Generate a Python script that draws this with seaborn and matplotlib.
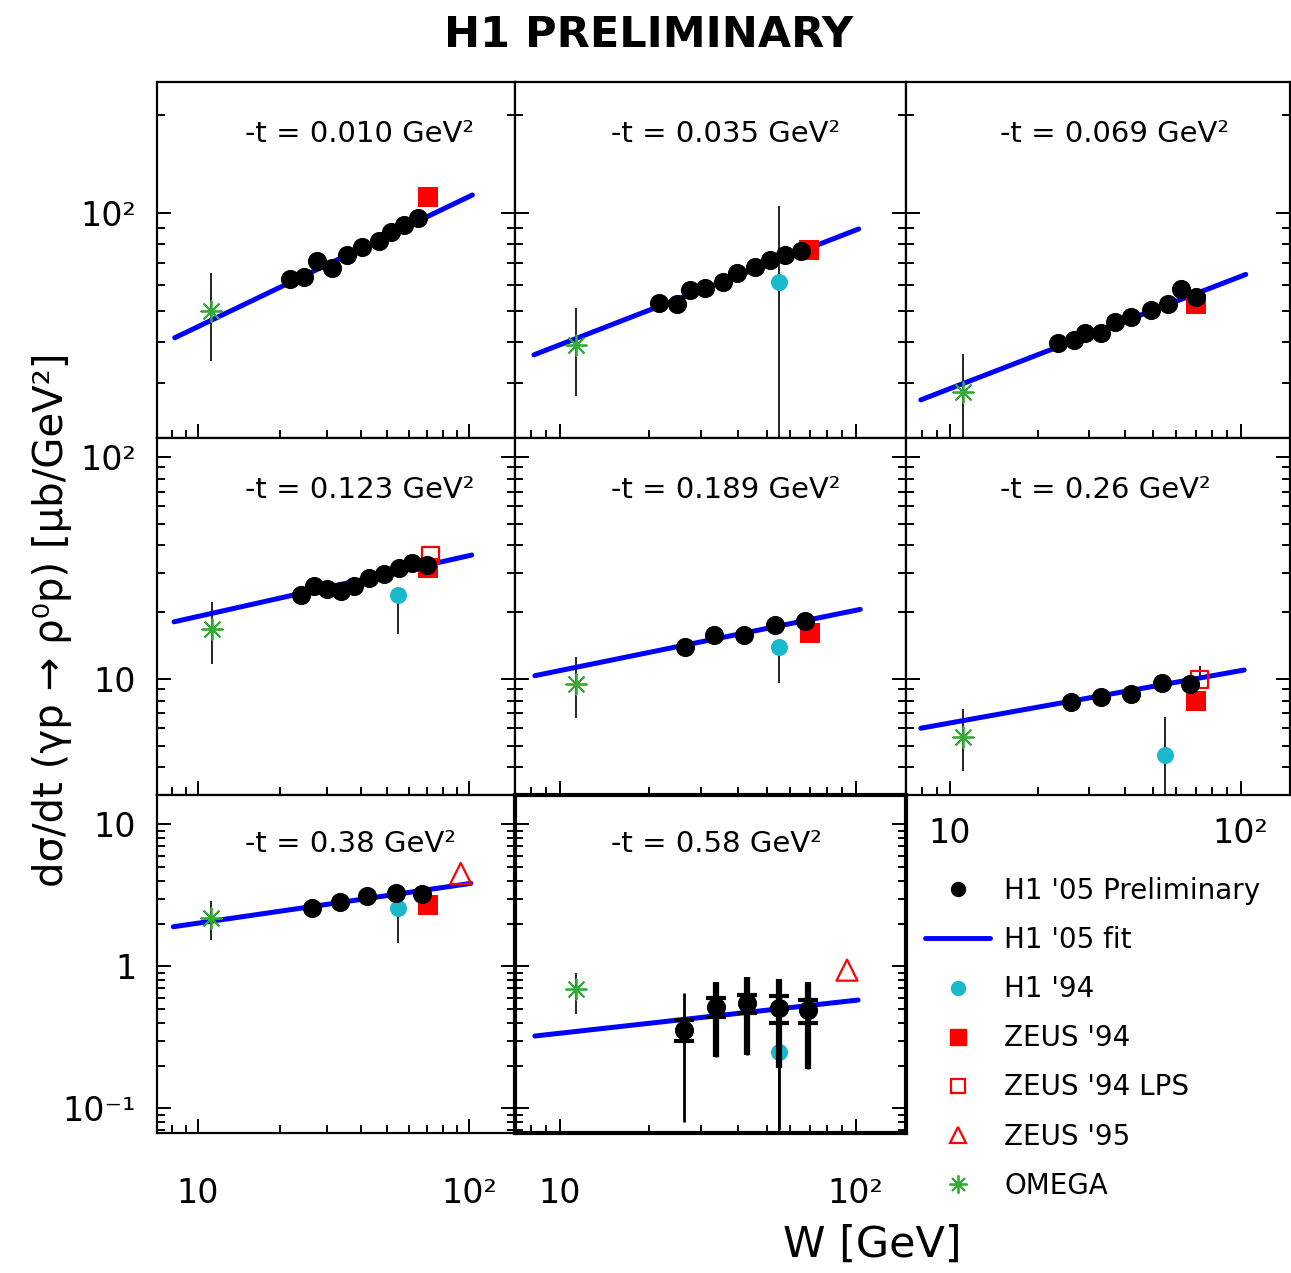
import numpy as np
import matplotlib
matplotlib.use("Agg")
import matplotlib.pyplot as plt
from matplotlib.ticker import LogLocator, FuncFormatter, NullFormatter
from matplotlib.lines import Line2D
import seaborn as sns

# ---------------- data ----------------
T_LABELS = ["0.010", "0.035", "0.069", "0.123", "0.189", "0.26", "0.38", "0.58"]

# H1 '05 preliminary points per panel
H1_05_W = [
    [21.8, 24.7, 27.5, 31.3, 35.5, 40.4, 46.5, 51.4, 57.5, 64.6],
    [21.6, 24.9, 27.6, 31.0, 35.5, 39.8, 45.7, 51.5, 57.9, 65.1],
    [23.6, 26.6, 29.1, 33.0, 36.9, 41.9, 49.3, 56.2, 62.4, 70.3],
    [23.9, 26.7, 30.0, 33.6, 37.6, 42.8, 48.6, 55.2, 61.8, 70.3],
    [26.4, 33.2, 41.8, 53.3, 67.6],
    [26.0, 33.0, 41.8, 53.8, 67.2],
    [26.4, 33.3, 42.2, 53.6, 67.4],
    [26.2, 33.6, 42.9, 54.9, 69.0],
]
H1_05_Y = [
    [62.5, 63.7, 71.1, 67.6, 74.3, 78.7, 82.0, 87.6, 91.8, 96.3],
    [52.9, 52.5, 58.0, 58.6, 61.5, 65.5, 68.4, 71.7, 74.4, 76.6],
    [39.7, 40.6, 42.6, 42.6, 46.3, 48.0, 50.3, 52.5, 58.2, 55.1],
    [23.9, 26.3, 25.4, 25.0, 26.3, 28.4, 29.7, 31.5, 33.4, 32.6],
    [14.0, 15.8, 15.8, 17.6, 18.2],
    [7.85, 8.32, 8.56, 9.56, 9.49],
    [2.56, 2.82, 3.13, 3.26, 3.23],
    [0.356, 0.519, 0.549, 0.506, 0.492],
]
# errors of the H1 '05 points in the last panel (-t = 0.58)
P8_TOT_LO = [0.080, 0.229, 0.237, 0.070, 0.188]
P8_TOT_HI = [0.645, 0.772, 0.837, 0.810, 0.780]
P8_IN_LO = [0.356, 0.229, 0.237, 0.191, 0.188]
P8_IN_HI = [0.356, 0.772, 0.837, 0.810, 0.780]
P8_STAT_LO = [0.300, 0.440, 0.470, 0.400, 0.400]
P8_STAT_HI = [0.420, 0.600, 0.630, 0.620, 0.580]

# H1 '05 fit (power law, straight in log-log): end points per panel
FIT_W_LO = [8.2, 8.17, 7.93, 8.15, 8.23, 7.93, 8.1, 8.23]
FIT_W_HI = [103.0, 102.4, 104.2, 102.4, 103.7, 102.9, 101.7, 101.9]
FIT_Y_LO = [41.3, 36.6, 26.6, 18.1, 10.35, 6.0, 1.90, 0.323]
FIT_Y_HI = [113.6, 89.3, 64.7, 36.2, 20.6, 10.98, 3.84, 0.579]

# OMEGA
OMEGA_W = [11.2, 11.3, 11.1, 11.3, 11.3, 11.1, 11.2, 11.3]
OMEGA_Y = [49.9, 39.3, 28.2, 16.8, 9.46, 5.5, 2.18, 0.689]
OMEGA_LO = [35.1, 27.4, 10.0, 11.7, 6.65, 3.85, 1.53, 0.461]
OMEGA_HI = [65.5, 50.9, 36.8, 22.2, 12.6, 7.3, 2.88, 0.90]

# H1 '94
H1_94_PANEL = [1, 3, 4, 5, 6, 7]
H1_94_W = [54.9, 54.9, 54.9, 54.8, 54.9, 54.9]
H1_94_Y = [61.5, 23.9, 13.9, 4.55, 2.56, 0.25]
H1_94_LO = [5.0, 15.9, 9.6, 1.0, 1.47, 0.01]
H1_94_HI = [105.0, 26.0, 15.2, 6.76, 2.9, 0.45]

# ZEUS '94
ZEUS94_PANEL = [0, 1, 2, 3, 4, 5, 6]
ZEUS94_W = [70.6, 69.8, 70.3, 70.6, 70.3, 70.3, 70.6]
ZEUS94_Y = [112.3, 76.9, 52.5, 31.5, 16.2, 7.98, 2.70]

# ZEUS '94 LPS
LPS_PANEL = [3, 5]
LPS_W = [71.9, 72.5]
LPS_Y = [36.2, 9.97]
LPS_HI = [36.2, 11.4]

# ZEUS '95
ZEUS95_PANEL = [6, 7]
ZEUS95_W = [93.3, 93.5]
ZEUS95_Y = [4.51, 0.94]

LEGEND_LABELS = ["H1 '05 Preliminary", "H1 '05 fit", "H1 '94", "ZEUS '94",
                 "ZEUS '94 LPS", "ZEUS '95", "OMEGA"]

# ---------------- style ----------------
sns.set_style("white")
plt.rcParams["font.family"] = ["DejaVu Sans"]
plt.rcParams["axes.linewidth"] = 1.6
plt.rcParams["text.color"] = "black"
plt.rcParams["axes.labelcolor"] = "black"
plt.rcParams["xtick.color"] = "black"
plt.rcParams["ytick.color"] = "black"

BLUE = "#0000ff"
CYAN = "#19b9cb"
RED = "#ff0000"
GREEN = "#33aa33"

W_PX, H_PX = 1291, 1273
fig = plt.figure(figsize=(W_PX / 100, H_PX / 100), dpi=100)
fig.patch.set_facecolor("white")

col_edges = [157, 515, 906, 1290]
row_edges = [82, 438, 795, 1133]
ROW_YLIM = [(20.3, 253.0), (3.0, 122.0), (0.067, 16.1)]
XLIM = (7.05, 148.0)

TICK_TEXT = {0.1: "10\u207b\u00b9", 1.0: "1", 10.0: "10", 100.0: "10\u00b2"}


def log_fmt(v, pos):
    for k, s in TICK_TEXT.items():
        if abs(v - k) / k < 1e-6:
            return s
    return ""


def draw_err(ax, x, y, lo, hi, lw=1.2, z=2):
    x = np.atleast_1d(x); y = np.atleast_1d(y)
    lo = np.atleast_1d(lo); hi = np.atleast_1d(hi)
    ax.errorbar(x, y, yerr=[y - lo, hi - y], fmt="none", ecolor="black",
                elinewidth=lw, capsize=0, zorder=z)


for i in range(8):
    r, c = divmod(i, 3)
    x0, x1 = col_edges[c], col_edges[c + 1]
    y0, y1 = row_edges[r], row_edges[r + 1]
    ax = fig.add_axes([x0 / W_PX, 1 - y1 / H_PX, (x1 - x0) / W_PX, (y1 - y0) / H_PX])
    ax.set_xscale("log")
    ax.set_yscale("log")

    # fit line
    sns.lineplot(x=[FIT_W_LO[i], FIT_W_HI[i]], y=[FIT_Y_LO[i], FIT_Y_HI[i]], ax=ax,
                 color=BLUE, lw=3.6, sort=False, estimator=None, zorder=3)

    # OMEGA
    draw_err(ax, OMEGA_W[i], OMEGA_Y[i], OMEGA_LO[i], OMEGA_HI[i])
    sns.scatterplot(x=[OMEGA_W[i]], y=[OMEGA_Y[i]], ax=ax, marker=(8, 2, 0), s=220,
                    color=GREEN, linewidth=1.3, zorder=5)

    # H1 '94
    if i in H1_94_PANEL:
        k = H1_94_PANEL.index(i)
        draw_err(ax, H1_94_W[k], H1_94_Y[k], H1_94_LO[k], H1_94_HI[k])
        sns.scatterplot(x=[H1_94_W[k]], y=[H1_94_Y[k]], ax=ax, marker="o", s=150,
                        color=CYAN, edgecolor=CYAN, linewidth=0, zorder=4)

    # ZEUS '94
    if i in ZEUS94_PANEL:
        k = ZEUS94_PANEL.index(i)
        sns.scatterplot(x=[ZEUS94_W[k]], y=[ZEUS94_Y[k]], ax=ax, marker="s", s=210,
                        color=RED, edgecolor=RED, linewidth=0, zorder=4)

    # ZEUS '94 LPS
    if i in LPS_PANEL:
        k = LPS_PANEL.index(i)
        draw_err(ax, LPS_W[k], LPS_Y[k], LPS_Y[k], LPS_HI[k])
        sns.scatterplot(x=[LPS_W[k]], y=[LPS_Y[k]], ax=ax, marker="s", s=150,
                        facecolor="none", edgecolor=RED, linewidth=1.6, zorder=4)

    # ZEUS '95
    if i in ZEUS95_PANEL:
        k = ZEUS95_PANEL.index(i)
        sns.scatterplot(x=[ZEUS95_W[k]], y=[ZEUS95_Y[k]], ax=ax, marker="^", s=230,
                        facecolor="none", edgecolor=RED, linewidth=1.6, zorder=4)

    # H1 '05 preliminary
    if i == 7:
        wx = np.array(H1_05_W[i]); wy = np.array(H1_05_Y[i])
        draw_err(ax, wx, wy, np.array(P8_TOT_LO), np.array(P8_TOT_HI), lw=2.0, z=6)
        draw_err(ax, wx, wy, np.array(P8_IN_LO), np.array(P8_IN_HI), lw=4.5, z=6)
        ax.errorbar(wx, wy, yerr=[wy - np.array(P8_STAT_LO), np.array(P8_STAT_HI) - wy],
                    fmt="none", ecolor="black", elinewidth=2.0, capsize=7, capthick=3.0,
                    zorder=6)
    sns.scatterplot(x=H1_05_W[i], y=H1_05_Y[i], ax=ax, marker="o", s=190,
                    color="black", edgecolor="black", linewidth=0, zorder=7)

    # panel text
    ax.text(0.245, 0.855, f"-t = {T_LABELS[i]} GeV\u00b2", transform=ax.transAxes,
            ha="left", va="center", fontsize=21, color="black")

    # axes styling
    ax.set_xlim(*XLIM)
    ax.set_ylim(*ROW_YLIM[r])
    ax.set_xlabel("")
    ax.set_ylabel("")
    ax.xaxis.set_major_locator(LogLocator(base=10))
    ax.xaxis.set_minor_locator(LogLocator(base=10, subs=np.arange(2, 10), numticks=50))
    ax.yaxis.set_major_locator(LogLocator(base=10))
    ax.yaxis.set_minor_locator(LogLocator(base=10, subs=np.arange(2, 10), numticks=50))
    ax.xaxis.set_major_formatter(FuncFormatter(log_fmt))
    ax.yaxis.set_major_formatter(FuncFormatter(log_fmt))
    ax.xaxis.set_minor_formatter(NullFormatter())
    ax.yaxis.set_minor_formatter(NullFormatter())
    ax.tick_params(which="both", direction="in", top=False, right=True, bottom=True,
                   left=True, width=1.4, colors="black", labelsize=24)
    ax.tick_params(which="major", length=10)
    ax.tick_params(which="minor", length=6)
    ax.tick_params(axis="y", labelleft=(c == 0), pad=15)
    if i in (6, 7):
        ax.tick_params(axis="x", labelbottom=True, pad=32)
    elif i == 5:
        ax.tick_params(axis="x", labelbottom=True, pad=16)
    else:
        ax.tick_params(axis="x", labelbottom=False)
    lw = 3.0 if i == 7 else 1.6
    for sp in ax.spines.values():
        sp.set_visible(True)
        sp.set_color("black")
        sp.set_linewidth(lw)
    ax.set_facecolor("white")

# legend in the empty ninth cell
handles = [
    Line2D([], [], marker="o", color="black", ls="none", ms=10),
    Line2D([], [], color=BLUE, lw=3.5),
    Line2D([], [], marker="o", color=CYAN, ls="none", ms=10),
    Line2D([], [], marker="s", color=RED, ls="none", ms=11),
    Line2D([], [], marker="s", mfc="none", mec=RED, ls="none", ms=10, mew=1.6),
    Line2D([], [], marker="^", mfc="none", mec=RED, ls="none", ms=12, mew=1.6),
    Line2D([], [], marker=(8, 2, 0), color=GREEN, ls="none", ms=13, mew=1.3),
]
fig.legend(handles, LEGEND_LABELS, loc="upper left",
           bbox_to_anchor=(925 / W_PX, 1 - 877 / H_PX), bbox_transform=fig.transFigure,
           frameon=False, fontsize=20, handlelength=2.35, handletextpad=0.5,
           labelspacing=0.76, borderpad=0, borderaxespad=0, labelcolor="black")

# titles and axis labels
fig.text(649 / W_PX, 1 - 35 / H_PX, "H1 PRELIMINARY", ha="center", va="center",
         fontsize=31, fontweight="bold", color="black")
fig.text(52 / W_PX, 1 - 620 / H_PX,
         "d\u03c3/dt (\u03b3p \u2192 \u03c1\u2070p) [\u03bcb/GeV\u00b2]",
         rotation=90, ha="center", va="center", fontsize=29, color="black")
fig.text(962 / W_PX, 1 - 1245 / H_PX, "W [GeV]", ha="right", va="center", fontsize=31,
         color="black")

fig.savefig("out.png", dpi=100, facecolor="white")
